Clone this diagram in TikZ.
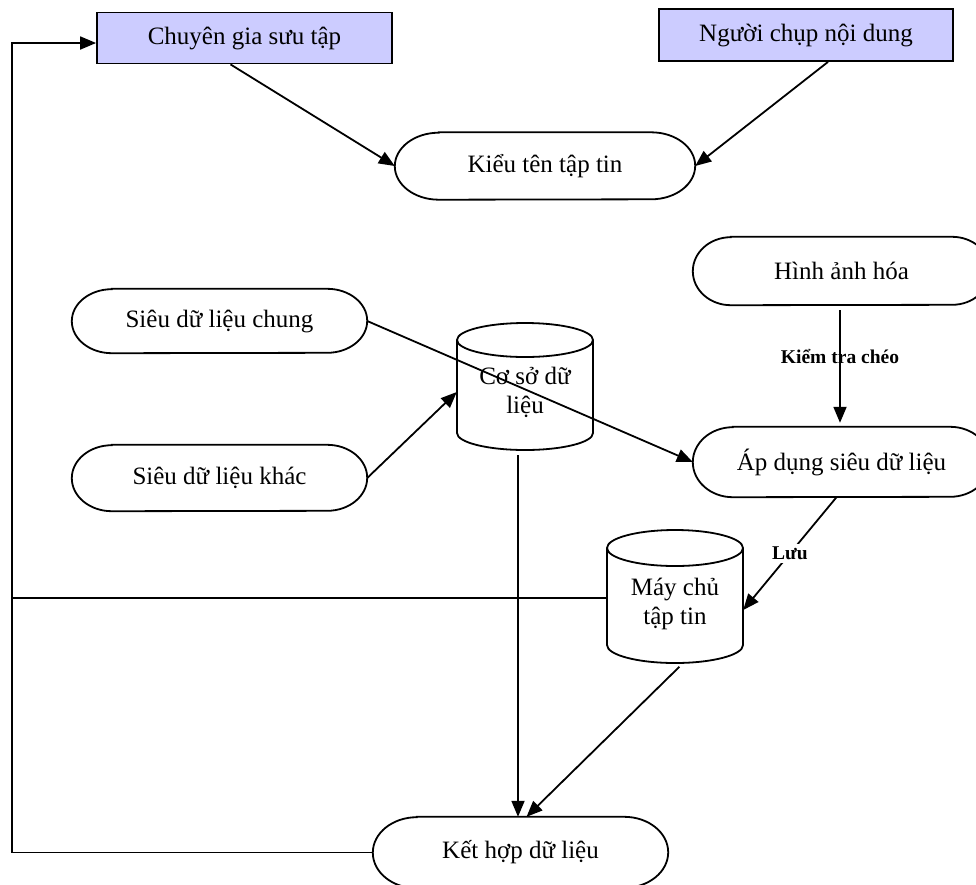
\documentclass[tikz,border=0pt]{standalone}
\usepackage{fontspec}
\setmainfont{Liberation Serif}
\usetikzlibrary{arrows.meta,calc}
\newcommand{\stadframe}[3]{\draw[ln] ([xshift=#2pt]#1.north west) -- ([xshift=-#2pt]#1.north east) arc[start angle=90,end angle=-90,x radius=#2,y radius=#3] -- ([xshift=#2pt]#1.south west) arc[start angle=270,end angle=90,x radius=#2,y radius=#3] -- cycle;}
\definecolor{boxfill}{RGB}{204,204,255}
\begin{document}
\begin{tikzpicture}[x=1pt,y=1pt,
  ln/.style={line width=1.8pt},
  arr/.style={ln,-{Triangle[length=16pt,width=13pt]}},
  txt/.style={font=\fontsize{25}{29}\selectfont,inner sep=0pt,align=center},
  actor/.style={txt,draw,ln,fill=boxfill,minimum height=51pt},
  stad/.style={txt},
  cylnode/.style={txt,minimum width=136pt},
  lbl/.style={font=\fontsize{19.5}{22}\selectfont\bfseries,inner sep=3pt}]
\useasboundingbox (0,0) rectangle (976,-884);

% nodes
\node[actor,minimum width=295pt] (cg) at (244.5,-38) {Chuyên gia sưu tập};
\node[actor,minimum width=294pt,minimum height=52pt] (ng) at (806,-35) {Người chụp nội dung};
\node[stad,minimum width=300pt,minimum height=67pt] (kieu) at (545,-166) {Kiểu tên tập tin};
\node[stad,minimum width=297pt,minimum height=68pt] (hinh) at (841.5,-271) {Hình ảnh hóa};
\node[stad,minimum width=295pt,minimum height=64pt] (sc) at (219.5,-321) {Siêu dữ liệu chung};
\node[stad,minimum width=295pt,minimum height=66pt] (sk) at (219.5,-478) {Siêu dữ liệu khác};
\node[stad,minimum width=297pt,minimum height=70pt] (ap) at (841.5,-462) {Áp dụng siêu dữ liệu};
\node[stad,minimum width=295pt,minimum height=71pt] (ket) at (520.5,-852.5) {Kết hợp dữ liệu};
\node[cylnode,minimum height=116pt] (co) at (525,-392) {Cơ sở dữ\\liệu};
\node[cylnode,minimum height=118pt] (mc) at (675,-604) {Máy chủ\\tập tin};
\coordinate (L1) at (12,-43);

% stadium outlines
\stadframe{kieu}{44}{33.5}
\stadframe{hinh}{38}{34}
\stadframe{sc}{40}{32}
\stadframe{sk}{40}{33}
\stadframe{ap}{40}{35}
\stadframe{ket}{44}{35.5}

% cylinder outlines
\draw[ln] (525,-340) ellipse[x radius=68,y radius=17];
\draw[ln] (457,-340) -- (457,-433) arc[start angle=180,end angle=360,x radius=68,y radius=17] -- (593,-340);
\draw[ln] (675,-548) ellipse[x radius=68,y radius=18];
\draw[ln] (607,-548) -- (607,-645) arc[start angle=180,end angle=360,x radius=68,y radius=18] -- (743,-548);

% connectors
\draw[arr] ([xshift=-14pt]cg.south) -- (kieu.west);
\draw[arr] ([xshift=22pt]ng.south) -- (kieu.east);
\draw[arr] (sc.east) -- (ap.west);
\draw[arr] (sk.east) -- (co.west);
\draw[arr] ([xshift=-2.5pt,yshift=-5pt]co.south -| ket.north) -- ([xshift=-2.5pt]ket.north);
\draw[arr,shorten <=5pt] ([xshift=8pt]mc.south) -- ([xshift=6pt]ket.north);
\draw[arr,shorten <=5pt,shorten >=4pt] ([xshift=-1.5pt]hinh.south) -- node[lbl,pos=0.42]{Kiểm tra chéo} ([xshift=-1.5pt]ap.north);
\draw[arr] ([xshift=-5pt]ap.south) -- node[lbl,fill=white,pos=0.5]{Lưu} ([yshift=-6pt]mc.east);
\draw[ln] ([yshift=6pt]mc.west) -- ([yshift=6pt]mc.west -| L1);
\draw[arr] (ket.west) -| (L1) -- ([yshift=-5pt]cg.west);
\end{tikzpicture}
\end{document}
